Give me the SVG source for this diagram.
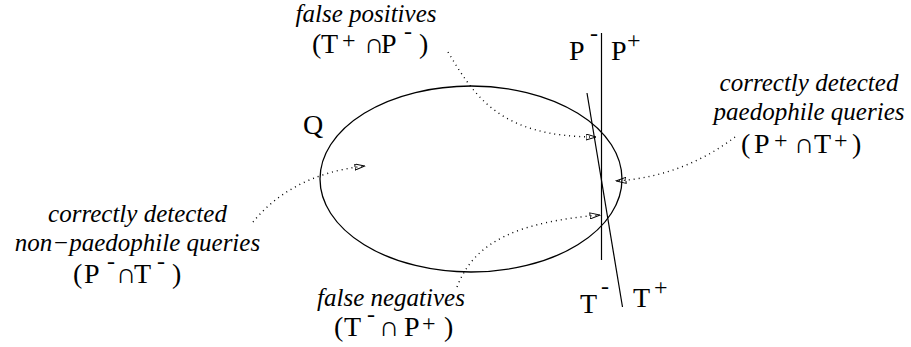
<svg xmlns="http://www.w3.org/2000/svg" width="911" height="347" viewBox="0 0 911 347">
<style>
.shape{fill:none;stroke:#000;stroke-width:1.3}
.ln{stroke:#000;stroke-width:1.2}
.dot{fill:none;stroke:#000;stroke-width:1.4;stroke-dasharray:1 4;marker-end:url(#ah)}
text{font-family:'Liberation Serif','Times New Roman','DejaVu Serif',serif;fill:#000}
.it{font-style:italic;font-size:25px;text-anchor:middle}
.m{font-size:28px}
.sup{font-size:24px}
.big{font-size:28px}
</style>
<defs>
<marker id="ah" viewBox="0 0 11 7" refX="10.5" refY="3.5" markerWidth="11" markerHeight="7" orient="auto" markerUnits="userSpaceOnUse">
<path d="M0.5,0.5 L10.5,3.5 L0.5,6.5 Z" fill="none" stroke="#000" stroke-width="1"/>
</marker>
</defs>

<g id="set-Q">
<ellipse class="shape" cx="471" cy="179" rx="151" ry="93"/>
<text class="big" x="303" y="134" font-family="Liberation Serif, serif">Q</text>
</g>

<g id="line-P">
<line class="ln" x1="601.5" y1="33" x2="601.5" y2="260"/>
<text class="big" font-family="Liberation Serif, serif"><tspan x="569" y="60">P</tspan><tspan class="sup" x="590" y="40.5">-</tspan><tspan x="611" y="60">P</tspan><tspan class="sup" x="627" y="47.5">+</tspan></text>
</g>

<g id="line-T">
<line class="ln" x1="587" y1="93" x2="622.5" y2="307"/>
<text class="big" font-family="Liberation Serif, serif"><tspan x="580" y="313">T</tspan><tspan class="sup" x="601" y="293.5">-</tspan><tspan x="633" y="307">T</tspan><tspan class="sup" x="654" y="295">+</tspan></text>
</g>

<g id="label-false-positives">
<text class="it" x="366" y="22" font-family="Liberation Serif, serif">false positives</text>
<text class="m" font-family="Liberation Serif, serif"><tspan x="312" y="53">(</tspan><tspan x="321">T</tspan><tspan class="sup" x="342" y="47.8">+</tspan><tspan x="364" y="53">∩</tspan><tspan x="381">P</tspan><tspan class="sup" x="404" y="38.7">-</tspan><tspan x="419" y="53">)</tspan></text>
</g>

<g id="label-true-positives">
<text class="it" x="809" y="91" font-family="Liberation Serif, serif">correctly detected</text>
<text class="it" x="809" y="120" font-family="Liberation Serif, serif">paedophile queries</text>
<text class="m" font-family="Liberation Serif, serif"><tspan x="741" y="153">(</tspan><tspan x="754">P</tspan><tspan class="sup" x="774" y="147.8">+</tspan><tspan x="794" y="153">∩</tspan><tspan x="814">T</tspan><tspan class="sup" x="834" y="147.8">+</tspan><tspan x="852" y="153">)</tspan></text>
</g>

<g id="label-true-negatives">
<text class="it" x="137.5" y="222" font-family="Liberation Serif, serif">correctly detected</text>
<text class="it" x="137.5" y="251" font-family="Liberation Serif, serif">non−paedophile queries</text>
<text class="m" font-family="Liberation Serif, serif"><tspan x="73" y="283">(</tspan><tspan x="84">P</tspan><tspan class="sup" x="107" y="268.7">-</tspan><tspan x="116" y="283">∩</tspan><tspan x="134">T</tspan><tspan class="sup" x="157" y="268.7">-</tspan><tspan x="172" y="283">)</tspan></text>
</g>

<g id="label-false-negatives">
<text class="it" x="391" y="306" font-family="Liberation Serif, serif">false negatives</text>
<text class="m" font-family="Liberation Serif, serif"><tspan x="334" y="336">(</tspan><tspan x="344">T</tspan><tspan class="sup" x="367" y="321.7">-</tspan><tspan x="379" y="336">∩</tspan><tspan x="404">P</tspan><tspan class="sup" x="422" y="330.8">+</tspan><tspan x="444" y="336">)</tspan></text>
</g>

<g id="connectors">
<path class="dot" d="M448,52 C475,97 500,137 596,137"/>
<path class="dot" d="M735,137 C705,160 665,178 616,181"/>
<path class="dot" d="M253,222 C275,195 310,172 365,166"/>
<path class="dot" d="M457,287 C475,240 520,222 600,215"/>
</g>
</svg>
